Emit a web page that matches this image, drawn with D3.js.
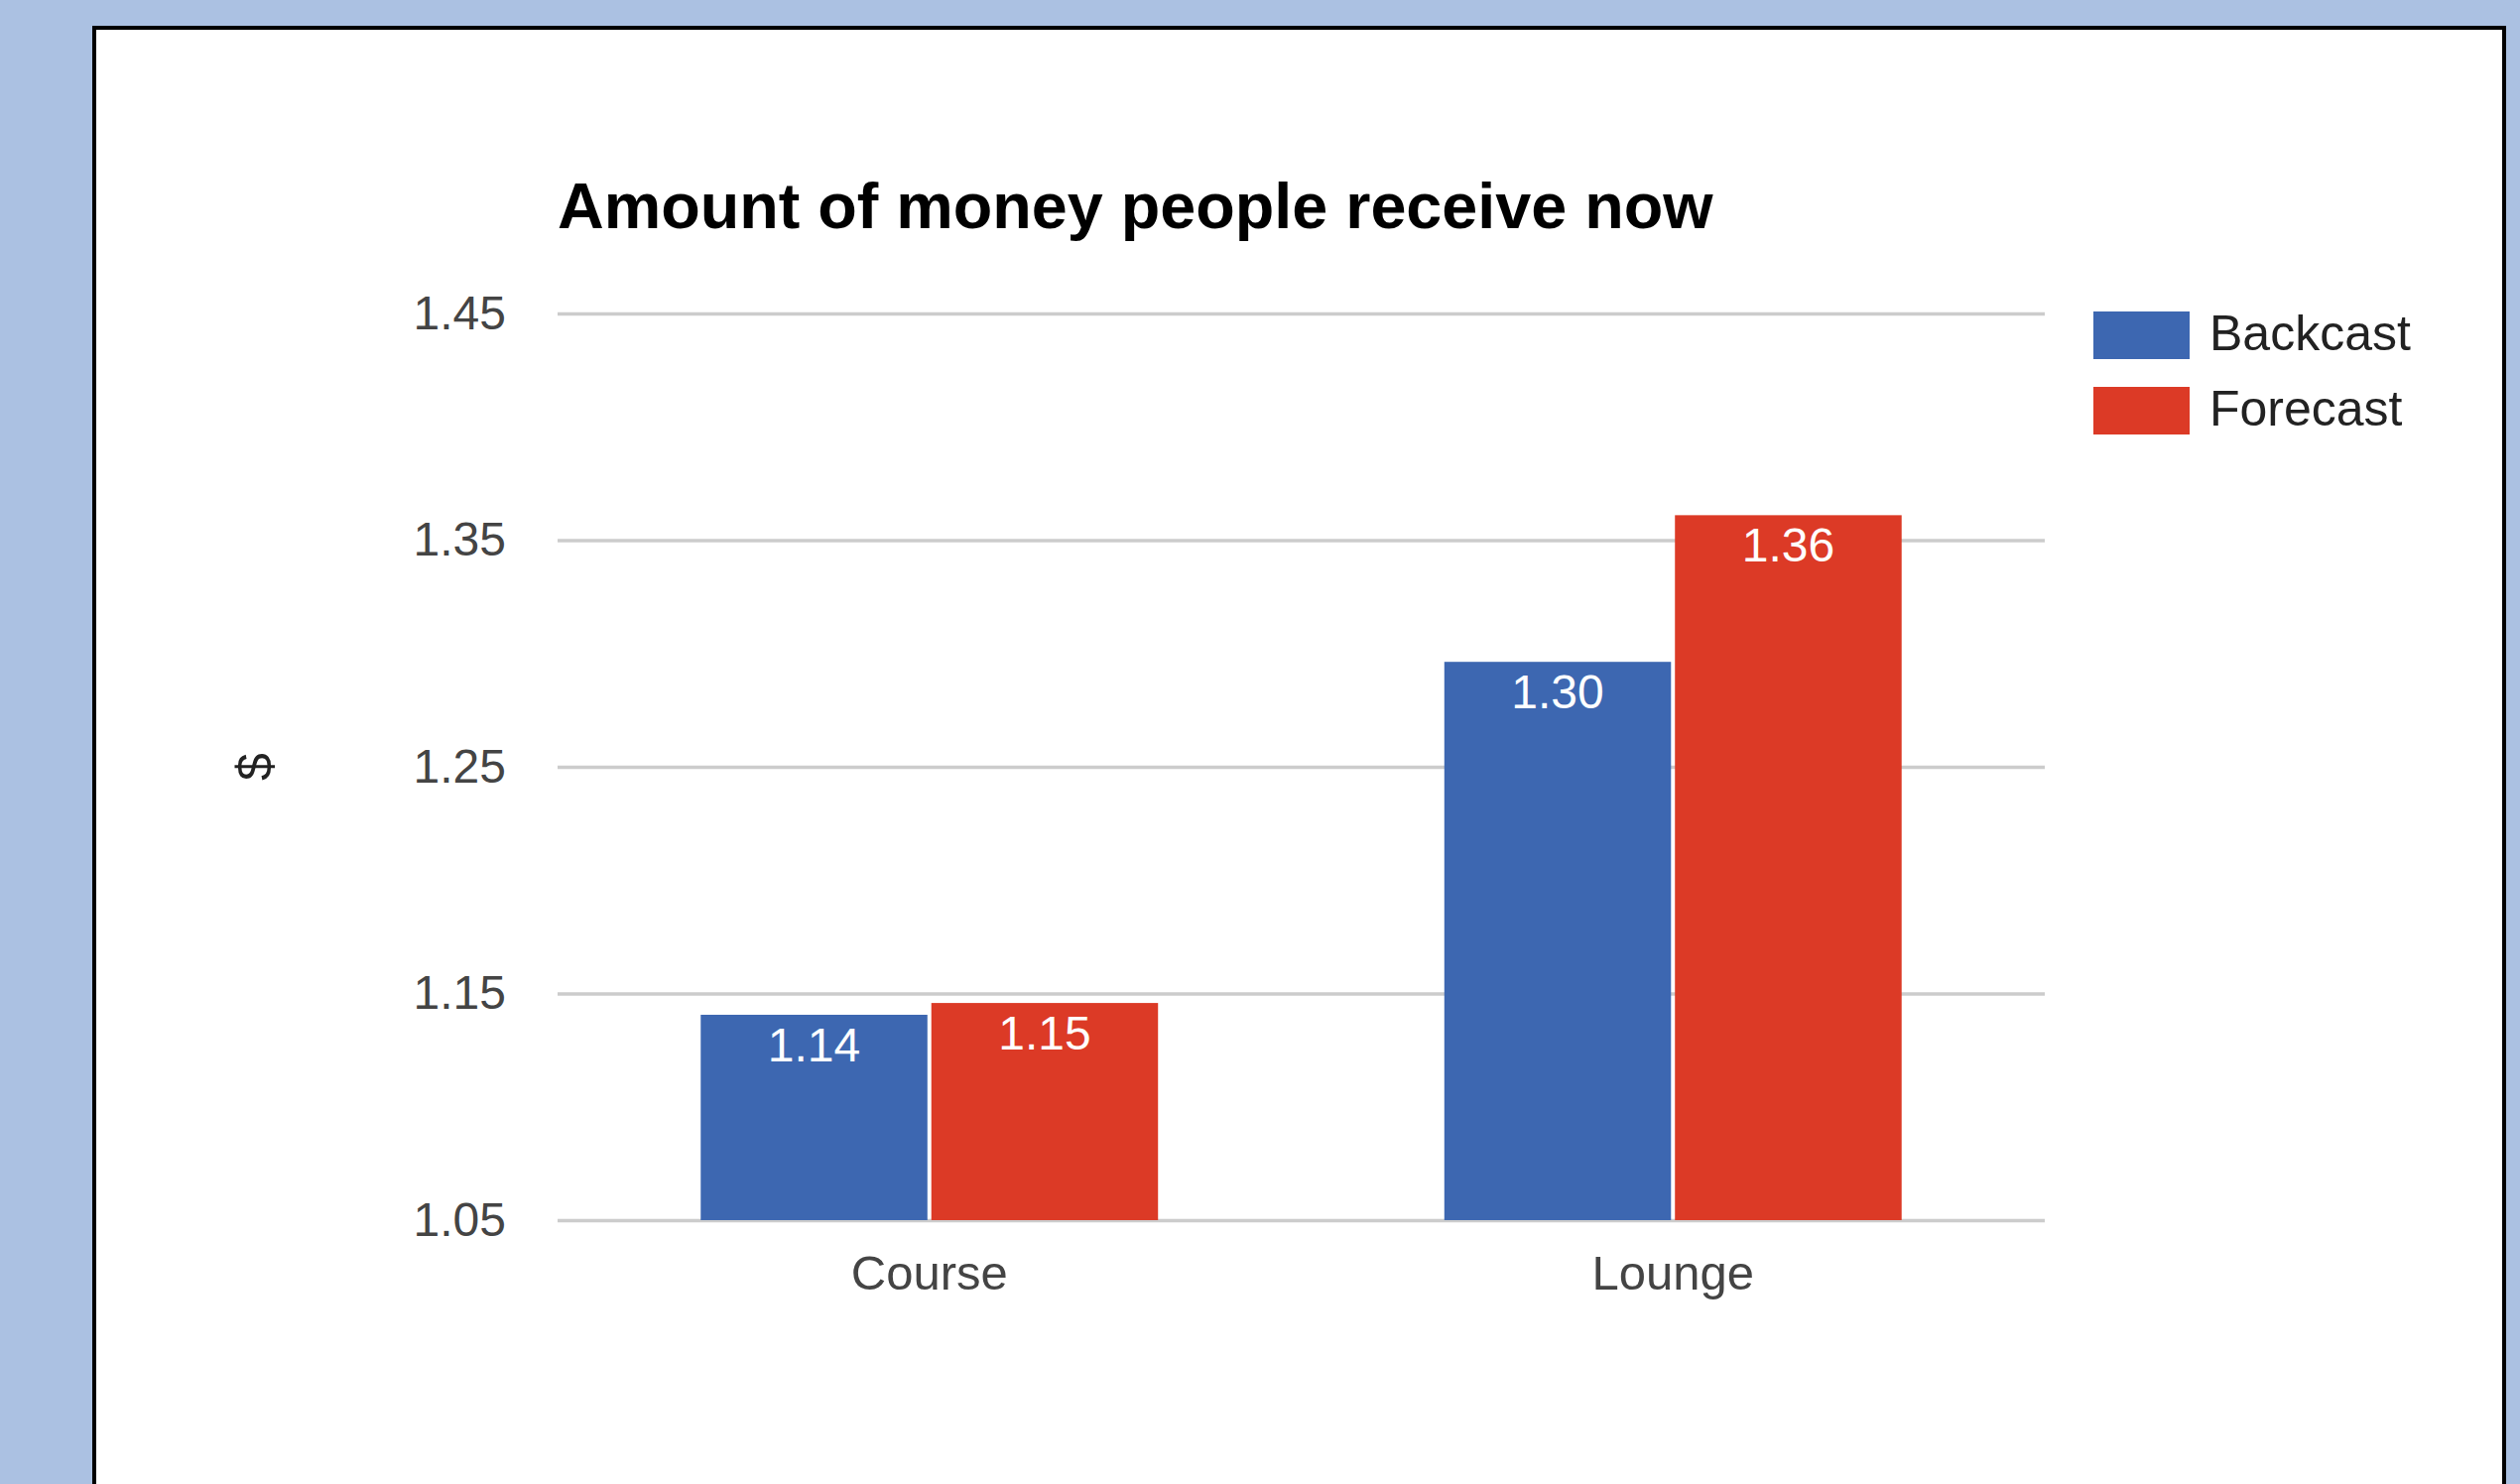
<!DOCTYPE html>
<html>
<head>
<meta charset="utf-8">
<script src="https://cdn.jsdelivr.net/npm/d3@7"></script>
<style>
  html, body { margin: 0; padding: 0; background: #abc1e2; overflow: hidden; }
  svg { display: block; }
  text { font-family: Arial, "Liberation Sans", sans-serif; }
</style>
</head>
<body>
<svg id="chart" width="2540" height="1496"></svg>
<script>
// Chart data
const categories = ["Course", "Lounge"];
const seriesNames = ["Backcast", "Forecast"];
const backcastValues = [1.1406, 1.2963];
const forecastValues = [1.1458, 1.3610];
const yTicks = [1.05, 1.15, 1.25, 1.35, 1.45];
const seriesColors = ["#3d67b1", "#dc3a26"];
const chartTitle = "Amount of money people receive now";
const yAxisTitle = "$";

const svg = d3.select("#chart");
const W = 2540, H = 1496;

// Framed white panel
svg.append("rect")
  .attr("x", 95).attr("y", 28)
  .attr("width", 2429).attr("height", H + 20)
  .attr("fill", "#ffffff")
  .attr("stroke", "#000000")
  .attr("stroke-width", 4);

const plot = { left: 562, right: 2061, top: 316, bottom: 1230 };

const y = d3.scaleLinear()
  .domain([yTicks[0], yTicks[yTicks.length - 1]])
  .range([plot.bottom, plot.top]);

const x0 = d3.scaleBand()
  .domain(categories)
  .range([plot.left, plot.right])
  .paddingInner(0.385)
  .paddingOuter(0.1925);

const x1 = d3.scaleBand()
  .domain(seriesNames)
  .range([0, x0.bandwidth()])
  .paddingInner(0.017);

const color = d3.scaleOrdinal().domain(seriesNames).range(seriesColors);
const fmt = d3.format(".2f");

// Y axis with gridlines
const yAxis = d3.axisLeft(y)
  .tickValues(yTicks)
  .tickFormat(fmt)
  .tickSizeInner(-(plot.right - plot.left))
  .tickSizeOuter(0)
  .tickPadding(52);

const gy = svg.append("g")
  .attr("transform", `translate(${plot.left},0)`)
  .call(yAxis);
gy.select(".domain").remove();
gy.selectAll(".tick line")
  .attr("stroke", "#cccccc")
  .attr("stroke-width", 3.5);
gy.selectAll(".tick text")
  .attr("fill", "#444444")
  .attr("font-size", 48);

// Bars
const rows = categories.map((c, i) => ({
  category: c,
  values: [
    { series: seriesNames[0], value: backcastValues[i] },
    { series: seriesNames[1], value: forecastValues[i] }
  ]
}));

const groups = svg.append("g").selectAll("g")
  .data(rows)
  .join("g")
  .attr("transform", d => `translate(${x0(d.category)},0)`);

groups.selectAll("rect")
  .data(d => d.values)
  .join("rect")
  .attr("x", d => x1(d.series))
  .attr("y", d => y(d.value))
  .attr("width", x1.bandwidth())
  .attr("height", d => y(yTicks[0]) - y(d.value))
  .attr("fill", d => color(d.series));

groups.selectAll("text.value")
  .data(d => d.values)
  .join("text")
  .attr("class", "value")
  .attr("x", d => x1(d.series) + x1.bandwidth() / 2)
  .attr("y", d => y(d.value) + 47)
  .attr("text-anchor", "middle")
  .attr("font-size", 48)
  .attr("fill", "#ffffff")
  .text(d => fmt(d.value));

// X axis labels
const xAxis = d3.axisBottom(x0).tickSize(0).tickPadding(0);
const gx = svg.append("g")
  .attr("transform", `translate(0,${plot.bottom})`)
  .call(xAxis);
gx.select(".domain").remove();
gx.selectAll(".tick text")
  .attr("dy", null)
  .attr("y", 70)
  .attr("fill", "#444444")
  .attr("font-size", 49);

// Title
svg.append("text")
  .attr("x", plot.left)
  .attr("y", 230)
  .attr("font-size", 64.7)
  .attr("font-weight", "bold")
  .attr("fill", "#000000")
  .text(chartTitle);

// Y axis title
svg.append("text")
  .attr("transform", `translate(274,${(plot.top + plot.bottom) / 2}) rotate(-90)`)
  .attr("text-anchor", "middle")
  .attr("font-size", 50)
  .attr("fill", "#222222")
  .text(yAxisTitle);

// Legend
const legend = svg.append("g").selectAll("g")
  .data(seriesNames)
  .join("g")
  .attr("transform", (d, i) => `translate(2110,${314 + i * 76})`);

legend.append("rect")
  .attr("width", 97)
  .attr("height", 48)
  .attr("fill", d => color(d));

legend.append("text")
  .attr("x", 117)
  .attr("y", 39)
  .attr("font-size", 50)
  .attr("fill", "#222222")
  .text(d => d);
</script>
</body>
</html>
